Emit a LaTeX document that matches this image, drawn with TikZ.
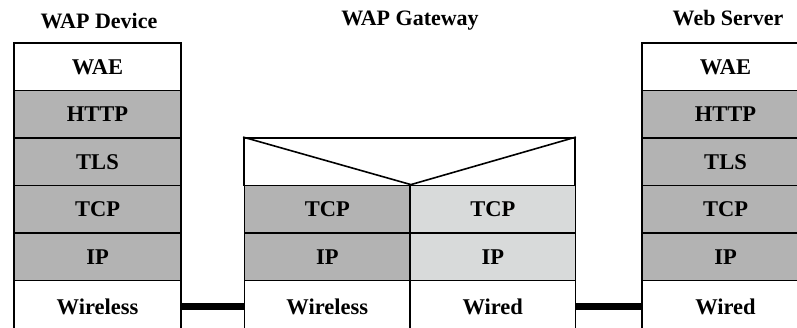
\documentclass[tikz,border=0pt]{standalone}
\usepackage{fontspec}
\setmainfont{Liberation Serif}
\definecolor{layerdark}{RGB}{179,179,179}
\definecolor{layerlight}{RGB}{216,218,218}
\tikzset{
  layer/.style={draw=black, line width=1.8pt, inner sep=0pt,
    minimum height=47.5pt, text=black,
    font=\fontsize{22.5}{22.5}\selectfont\bfseries},
  full/.style={layer, minimum width=167pt},
  half/.style={layer, minimum width=165.5pt},
  base/.style={minimum height=52pt},
  dark/.style={fill=layerdark},
  light/.style={fill=layerlight},
  plain/.style={fill=white},
  title/.style={font=\fontsize{22}{22}\selectfont\bfseries, inner sep=0pt},
  link/.style={line width=7pt, black}
}
\begin{document}
\begin{tikzpicture}[x=1pt,y=-1pt]
\useasboundingbox (0,0) rectangle (797,327);
\clip (0,0) rectangle (797,327);

% titles
\node[title] (tDev) at (99,21) {WAP Device};
\node[title] (tGw)  at (410,21) {WAP Gateway};
\node[title] (tSrv) at (728,18) {Web Server};

% WAP device stack
\node[full,plain] (dWAE)  at (97.5,66.75)  {WAE};
\node[full,dark]  (dHTTP) at (97.5,114.25) {HTTP};
\node[full,dark]  (dTLS)  at (97.5,161.75) {TLS};
\node[full,dark]  (dTCP)  at (97.5,209.25) {TCP};
\node[full,dark]  (dIP)   at (97.5,256.75) {IP};
\node[full,plain,base] (dWL) at (97.5,306.5) {Wireless};

% web server stack
\node[full,plain] (sWAE)  at (725.5,66.75)  {WAE};
\node[full,dark]  (sHTTP) at (725.5,114.25) {HTTP};
\node[full,dark]  (sTLS)  at (725.5,161.75) {TLS};
\node[full,dark]  (sTCP)  at (725.5,209.25) {TCP};
\node[full,dark]  (sIP)   at (725.5,256.75) {IP};
\node[full,plain,base] (sWD) at (725.5,306.5) {Wired};

% WAP gateway
\node[layer,plain,minimum width=331pt] (gTop) at (409.5,161.75) {};
\node[half,dark]  (gTCPa) at (327.25,209.25) {TCP};
\node[half,dark]  (gIPa)  at (327.25,256.75) {IP};
\node[half,plain,base] (gWL) at (327.25,306.5) {Wireless};
\node[half,light] (gTCPb) at (492.75,209.25) {TCP};
\node[half,light] (gIPb)  at (492.75,256.75) {IP};
\node[half,plain,base] (gWD) at (492.75,306.5) {Wired};
\draw[line width=1.6pt, line join=miter]
  (gTop.north west) -- (gTCPa.north east) -- (gTop.north east);

% physical links
\draw[link] (dWL.east) -- (gWL.west);
\draw[link] (gWD.east) -- (sWD.west);
\end{tikzpicture}
\end{document}
